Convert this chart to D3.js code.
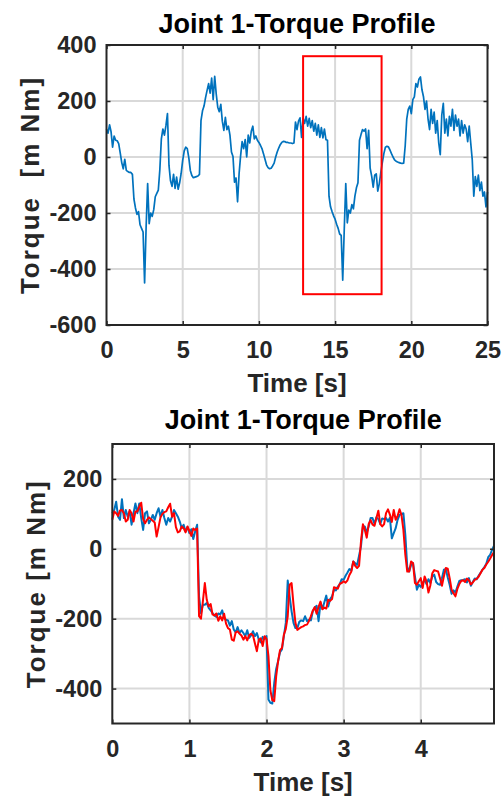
<html>
<head>
    <meta charset="utf-8">
    <title>joint 1 torque</title>
</head>
<body style="margin: 0; background: #fff;">
    <svg></svg>
</body>

<script src="https://cdn.jsdelivr.net/npm/d3@7"></script>
<script>
const width = 503;
const height = 799;

// top: whole run, sampled every 0.1 s from 0 s
const topDt = 0.1;
const topTorque = [
    100, 85, 115, 90, 35, 75, 60, 58, 48, 15,
    -20, -42, -8, -48, -52, -55, -55, -62, -150, -182,
    -205, -195, -242, -255, -268, -450, -250, -95, -238, -200,
    -212, -188, -142, -130, -118, -45, 65, 100, 78, 112,
    155, -30, -85, -105, -62, -112, -72, -115, -92, -58,
    -12, 22, 35, 30, -2, -48, -66, -74, -72, -70,
    -68, -62, 130, 165, 182, 212, 238, 262, 228, 282,
    205, 288, 225, 178, 162, 188, 128, 95, 142, 98,
    110, 78, 18, 2, -90, -75, -160, -60, 5, 55,
    30, 62, 0, 78, 50, 92, 110, 65, 75, 60,
    52, 42, 30, 12, -8, -28, -38, -42, -40, -32,
    -22, 0, 18, 32, 44, 52, 56, 55, 52, 52,
    50, 50, 48, 50, 125, 98, 128, 140, 70, 138,
    120, 145, 110, 138, 105, 130, 92, 120, 78, 115,
    70, 105, 68, 100, 62, 60, -140, -178, -195, -210,
    -222, -240, -255, -275, -280, -440, -260, -95, -235, -190,
    -200, -170, -185, -140, -110, -92, 60, 80, 98, 92,
    100, 30, 95, -40, -68, -108, -65, -60, -122, -95,
    -55, -20, 12, 35, 38, 36, 25, 12, 0, -10,
    -15, -18, -20, -22, -23, -22, 40, 135, 170, 182,
    155, 205, 215, 262, 250, 278, 286, 240, 215, 170,
    200, 135, 98, 170, 120, 160, 85, 130, 50, 8,
    150, 192, 85, 135, 75, 145, 110, 170, 95, 150,
    110, 135, 75, 130, 85, 115, 100, 55, 110, 50,
    -10, -140, -70, -105, -65, -120, -90, -140, -125, -178,
    -125
];
const topBox = {t0: 12.9, t1: 18.05, v0: -490, v1: 360};

// bottom: zoomed window, sampled every 0.025 s
const botDt = 0.025;
const botMeasured = [
    102, 111, 135, 92, 83, 142, 88, 111, 92, 107,
    69, 102, 130, 102, 130, 88, 54, 102, 107, 73,
    83, 97, 83, 102, 116, 92, 111, 88, 69, 88,
    78, 92, 111, 102, 92, 78, 59, 69, 50, 62,
    45, 56, 28, 50, 69, -136, -184, -160, -160, -155,
    -169, -176, -184, -191, -195, -185, -188, -176, -198, -203,
    -205, -220, -207, -231, -239, -224, -241, -233, -241, -250,
    -233, -255, -248, -236, -250, -241, -260, -268, -252, -258,
    -250, -431, -441, -443, -384, -344, -322, -296, -288, -250,
    -212, -91, -136, -179, -212, -227, -227, -209, -205, -207,
    -193, -207, -203, -205, -179, -169, -163, -207, -155, -172,
    -153, -134, -165, -144, -136, -117, -119, -108, -101, -87,
    -89, -77, -68, -58, -62, -36, -41, -46, -20, 7,
    64, 64, 47, 64, 88, 88, 71, 90, 85, 71,
    87, 85, 88, 78, 89, 30, 45, 59, 83, 97,
    99, 102, 40, -52, -65, -46, -41, -79, -117, -103,
    -109, -98, -89, -101, -87, -98, -79, -74, -95, -101,
    -103, -84, -60, -58, -82, -103, -129, -119, -125, -108,
    -92, -90, -89, -87, -96, -84, -106, -95, -85, -87,
    -77, -69, -60, -52, -43, -24, -17, -3, 9
];
const botModel = [
    83, 107, 102, 94, 110, 111, 102, 78, 83, 111,
    102, 78, 107, 107, 121, 132, 85, 73, 83, 90,
    85, 80, 75, 35, 62, 90, 100, 105, 107, 119,
    129, 92, 102, 62, 47, 50, 64, 59, 47, 64,
    51, 37, 58, 54, 58, -193, -200, -150, -98, -146,
    -165, -158, -188, -191, -185, -206, -193, -205, -186, -214,
    -227, -231, -260, -263, -239, -236, -243, -248, -260, -250,
    -262, -247, -243, -248, -271, -293, -260, -256, -278, -250,
    -258, -307, -405, -433, -436, -365, -322, -290, -284, -246,
    -229, -193, -103, -98, -160, -212, -232, -228, -224, -222,
    -218, -217, -207, -193, -177, -167, -186, -166, -151, -173,
    -168, -171, -146, -149, -144, -110, -112, -114, -100, -98,
    -93, -97, -90, -75, -65, -36, -49, -55, -49, 21,
    70, 54, 32, 71, 82, 69, 66, 88, 109, 71,
    64, 71, 102, 113, 98, 77, 111, 83, 94, 113,
    97, 54, -17, -65, -65, -36, -41, -98, -103, -93,
    -84, -112, -79, -93, -125, -104, -70, -61, -63, -65,
    -84, -106, -79, -55, -57, -84, -117, -127, -136, -115,
    -101, -92, -90, -95, -85, -90, -102, -96, -89, -86,
    -80, -70, -60, -55, -45, -37, -28, -18, -9
];

const topXTicks = [0, 5, 10, 15, 20, 25];
const topYTicks = [-600, -400, -200, 0, 200, 400];
const botXTicks = [0, 1, 2, 3, 4];
const botYTicks = [-400, -200, 0, 200];

const titleText = "Joint 1-Torque Profile";
const xLabel = "Time [s]";
const topYLabel = "Torque  [m Nm]";
const botYLabel = "Torque [m Nm]";

const font = "'Liberation Sans', Arial, Helvetica, sans-serif";
const blue = "#0072BD";
const red = "#FF0000";
const axisCol = "#262626";
const gridCol = "#d9d9d9";

const svg = d3.select("svg")
    .attr("width", width)
    .attr("height", height)
    .style("font-family", font)
    .style("font-weight", "bold");

function panel(box, xDomain, yDomain, xTicks, yTicks, yLabel, titleY, xTickY, xLabelY) {
    const x = d3.scaleLinear().domain(xDomain).range([box.left, box.right]);
    const y = d3.scaleLinear().domain(yDomain).range([box.bottom, box.top]);
    const g = svg.append("g");

    // grid
    g.append("g")
        .selectAll("line")
        .data(xTicks.filter(d => d > xDomain[0] && d < xDomain[1]))
        .join("line")
            .attr("x1", d => x(d)).attr("x2", d => x(d))
            .attr("y1", box.top).attr("y2", box.bottom)
            .attr("stroke", gridCol).attr("stroke-width", 2);
    g.append("g")
        .selectAll("line")
        .data(yTicks.filter(d => d > yDomain[0] && d < yDomain[1]))
        .join("line")
            .attr("y1", d => y(d)).attr("y2", d => y(d))
            .attr("x1", box.left).attr("x2", box.right)
            .attr("stroke", gridCol).attr("stroke-width", 2);

    const plot = g.append("g");

    // axes, ticks pointing in
    const styleAxis = sel => {
        sel.select(".domain").remove();
        sel.selectAll("line").attr("stroke", axisCol).attr("stroke-width", 1.5);
        sel.selectAll("text").attr("fill", axisCol).style("font-size", "23.5px")
            .style("font-family", font).style("font-weight", "bold");
    };
    const fmt = d => String(d);
    g.append("g").attr("transform", `translate(0,${box.bottom})`)
        .call(d3.axisBottom(x).tickValues(xTicks).tickFormat(fmt).tickSize(-4).tickPadding(0))
        .call(styleAxis)
        .selectAll("text").attr("dy", null).attr("y", xTickY - box.bottom);
    g.append("g").attr("transform", `translate(0,${box.top})`)
        .call(d3.axisTop(x).tickValues(xTicks).tickFormat("").tickSize(-4))
        .call(styleAxis);
    g.append("g").attr("transform", `translate(${box.left},0)`)
        .call(d3.axisLeft(y).tickValues(yTicks).tickFormat(fmt).tickSize(-4).tickPadding(10))
        .call(styleAxis);
    g.append("g").attr("transform", `translate(${box.right},0)`)
        .call(d3.axisRight(y).tickValues(yTicks).tickFormat("").tickSize(-4))
        .call(styleAxis);

    g.append("rect")
        .attr("x", box.left).attr("y", box.top)
        .attr("width", box.right - box.left).attr("height", box.bottom - box.top)
        .attr("fill", "none").attr("stroke", axisCol).attr("stroke-width", 2);

    const cx = (box.left + box.right) / 2;
    g.append("text").attr("x", cx).attr("y", titleY)
        .attr("text-anchor", "middle").attr("fill", "#000")
        .style("font-size", "27px").text(titleText);
    g.append("text").attr("x", cx).attr("y", xLabelY)
        .attr("text-anchor", "middle").attr("fill", axisCol)
        .style("font-size", "26px").text(xLabel);
    // rotated label comes out wider-spaced in the original
    g.append("text")
        .attr("transform", `translate(${box.labelX},${(box.top + box.bottom) / 2}) rotate(-90)`)
        .attr("text-anchor", "middle").attr("fill", axisCol)
        .style("font-size", "26px").style("white-space", "pre")
        .style("letter-spacing", "2px")
        .text(yLabel);

    return {x, y, plot};
}

// top panel
const topPanel = panel({left: 106.5, right: 487.5, top: 45, bottom: 325, labelX: 39},
    [0, 25], [-600, 400], topXTicks, topYTicks, topYLabel, 33, 358, 392);

topPanel.plot.append("path")
    .datum(topTorque)
    .attr("fill", "none")
    .attr("stroke", blue)
    .attr("stroke-width", 1.7)
    .attr("stroke-linejoin", "round")
    .attr("d", d3.line().x((d, i) => topPanel.x(i * topDt)).y(d => topPanel.y(d)));

topPanel.plot.append("rect")
    .attr("x", topPanel.x(topBox.t0)).attr("y", topPanel.y(topBox.v1))
    .attr("width", topPanel.x(topBox.t1) - topPanel.x(topBox.t0))
    .attr("height", topPanel.y(topBox.v0) - topPanel.y(topBox.v1))
    .attr("fill", "none").attr("stroke", red).attr("stroke-width", 2);

// bottom panel
const botPanel = panel({left: 112.3, right: 494, top: 444, bottom: 723.5, labelX: 45},
    [0, 4.95], [-500, 300], botXTicks, botYTicks, botYLabel, 429, 757, 791);

const botLine = d3.line().x((d, i) => botPanel.x(i * botDt)).y(d => botPanel.y(d));
botPanel.plot.append("path")
    .datum(botMeasured)
    .attr("fill", "none").attr("stroke", blue).attr("stroke-width", 2)
    .attr("stroke-linejoin", "round")
    .attr("d", botLine);
botPanel.plot.append("path")
    .datum(botModel)
    .attr("fill", "none").attr("stroke", red).attr("stroke-width", 2)
    .attr("stroke-linejoin", "round")
    .attr("d", botLine);
</script>
</html>
